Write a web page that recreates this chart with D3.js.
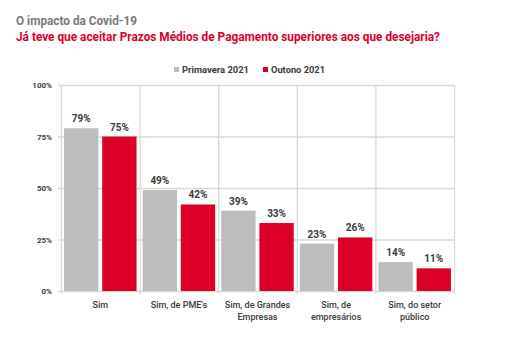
<!DOCTYPE html>
<html>
<head>
<meta charset="utf-8">
<script src="https://cdn.jsdelivr.net/npm/d3@7"></script>
<style>
  body { margin: 0; background: #fff; }
  text { font-family: Roboto, "Noto Sans", sans-serif; }
</style>
</head>
<body>
<div id="container"></div>
<script>
// dados
const categories = [["Sim"], ["Sim, de PME's"], ["Sim, de Grandes", "Empresas"], ["Sim, de", "empresários"], ["Sim, do setor", "público"]];
const seriesNames = ["Primavera 2021", "Outono 2021"];
const primavera = [79, 49, 39, 23, 14];
const outono = [75, 42, 33, 26, 11];
const yTicks = [0, 25, 50, 75, 100];

const WIDTH = 508, HEIGHT = 351;
const margin = { left: 61, right: 54, top: 85, bottom: 60 };
const width = WIDTH - margin.left - margin.right,
      height = HEIGHT - margin.top - margin.bottom;

const colors = ["#bdbdbd", "#dc0029"];
const gridColor = "#d9d9d9";

const svg = d3.select("#container").append("svg")
  .attr("width", WIDTH).attr("height", HEIGHT);

// títulos
svg.append("text")
  .attr("x", 16).attr("y", 25)
  .attr("fill", "#7a7a7a").attr("font-weight", "bold").attr("font-size", 12)
  .attr("textLength", 121).attr("lengthAdjust", "spacingAndGlyphs")
  .text("O impacto da Covid-19");
svg.append("text")
  .attr("x", 16).attr("y", 41)
  .attr("fill", "#dc0029").attr("font-weight", "bold").attr("font-size", 12)
  .attr("textLength", 424).attr("lengthAdjust", "spacingAndGlyphs")
  .text("Já teve que aceitar Prazos Médios de Pagamento superiores aos que desejaria?");

// legenda
const legend = [{ x: 174, w: 67 }, { x: 263, w: 54 }];
legend.forEach((l, i) => {
  svg.append("rect").attr("x", l.x).attr("y", 67).attr("width", 5).attr("height", 5)
    .attr("fill", colors[i]);
  svg.append("text").attr("x", l.x + 8).attr("y", 73)
    .attr("fill", "#3a3a3a").attr("font-weight", "bold").attr("font-size", 9)
    .attr("textLength", l.w).attr("lengthAdjust", "spacingAndGlyphs")
    .text(seriesNames[i]);
});

const g = svg.append("g").attr("transform", `translate(${margin.left},${margin.top})`);

const x0 = d3.scaleBand().domain(d3.range(categories.length)).range([0, width]);
const x1 = d3.scaleBand().domain([0, 1]).range([0, x0.bandwidth()]).paddingInner(0.1).paddingOuter(0.08);
const y = d3.scaleLinear().domain([0, 100]).range([height, 0]);

// grelha horizontal
g.append("g").selectAll("line").data(yTicks).join("line")
  .attr("x1", -3).attr("x2", width)
  .attr("y1", d => y(d) + 0.5).attr("y2", d => y(d) + 0.5)
  .attr("stroke", gridColor).attr("stroke-width", 1.3);

// grelha vertical
g.append("g").selectAll("line").data(d3.range(categories.length + 1)).join("line")
  .attr("x1", d => (d < categories.length ? x0(d) : width) + 0.5)
  .attr("x2", d => (d < categories.length ? x0(d) : width) + 0.5)
  .attr("y1", 0).attr("y2", height + 3)
  .attr("stroke", gridColor).attr("stroke-width", 1.3);

// eixo y
g.append("g").selectAll("text").data(yTicks).join("text")
  .attr("x", -9).attr("y", d => y(d) + 3)
  .attr("text-anchor", "end")
  .attr("fill", "#3a3a3a").attr("font-weight", "bold").attr("font-size", 8)
  .text(d => d + "%");

// barras
const series = [primavera, outono];
const groups = g.append("g").selectAll("g").data(categories).join("g")
  .attr("transform", (d, i) => `translate(${x0(i)},0)`);

groups.each(function (d, i) {
  const gg = d3.select(this);
  series.forEach((s, k) => {
    gg.append("rect")
      .attr("x", x1(k)).attr("width", x1.bandwidth())
      .attr("y", y(s[i])).attr("height", height - y(s[i]))
      .attr("fill", colors[k]);
    gg.append("text")
      .attr("x", x1(k) + x1.bandwidth() / 2).attr("y", y(s[i]) - 6)
      .attr("text-anchor", "middle")
      .attr("fill", "#3a3a3a").attr("font-weight", "bold").attr("font-size", 10)
      .text(s[i] + "%");
  });
  // rótulos das categorias
  d.forEach((line, j) => {
    gg.append("text")
      .attr("x", x0.bandwidth() / 2).attr("y", height + 17 + j * 12)
      .attr("text-anchor", "middle")
      .attr("fill", "#3a3a3a").attr("font-weight", 500).attr("font-size", 9)
      .text(line);
  });
});
</script>
</body>
</html>
